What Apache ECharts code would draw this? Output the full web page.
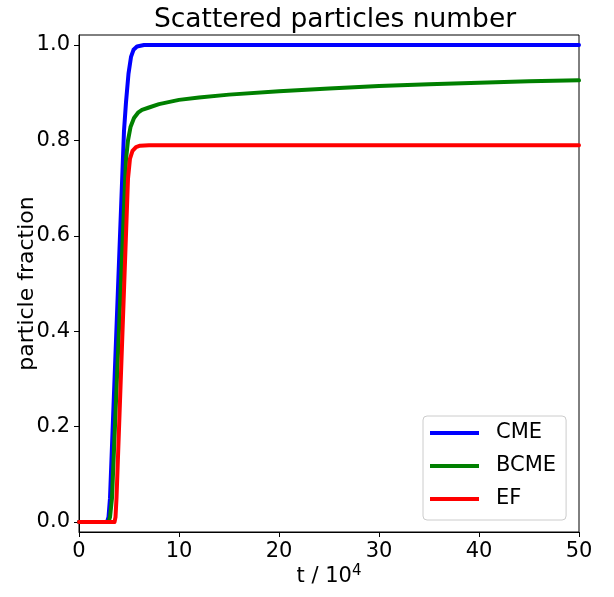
<!DOCTYPE html>
<html>
<head>
<meta charset="utf-8">
<script src="https://cdn.jsdelivr.net/npm/echarts@6/dist/echarts.min.js"></script>
<style>
  html, body { margin: 0; padding: 0; background: #fff; }
  #chart { width: 614px; height: 597px; }
</style>
</head>
<body>
<div id="chart"></div>
<script>
// values (t in units of 10^4)
var tCME = [0, 2.8, 2.95, 3.1, 4.5, 4.7, 4.95, 5.2, 5.45, 5.8, 6.5, 10, 20, 30, 40, 50];
var fCME = [0, 0, 0.01, 0.05, 0.82, 0.88, 0.94, 0.975, 0.99, 0.997, 1.0, 1.0, 1.0, 1.0, 1.0, 1.0];

var tBCME = [0, 2.95, 3.1, 3.3, 4.7, 4.9, 5.15, 5.5, 5.9, 6.3, 7, 8, 10, 12, 15, 20, 25, 30, 35, 40, 45, 50];
var fBCME = [0, 0, 0.01, 0.05, 0.76, 0.8, 0.828, 0.847, 0.858, 0.864, 0.869, 0.876, 0.885, 0.89, 0.896, 0.903, 0.909, 0.914, 0.918, 0.921, 0.924, 0.926];

var tEF = [0, 3.55, 3.65, 3.75, 4.9, 5.1, 5.35, 5.7, 6.1, 7, 10, 20, 30, 40, 50];
var fEF = [0, 0, 0.01, 0.05, 0.72, 0.762, 0.778, 0.786, 0.789, 0.79, 0.79, 0.79, 0.79, 0.79, 0.79];

var yTicks = [0, 0.2, 0.4, 0.6, 0.8, 1.0];
var seriesNames = ['CME', 'BCME', 'EF'];
var seriesColors = ['#0000ff', '#008000', '#ff0000'];

function pairs(ts, fs) {
  return ts.map(function (t, i) { return [t, fs[i]]; });
}

var chart = echarts.init(document.getElementById('chart'));
var font = 'DejaVu Sans';

var option = {
  backgroundColor: '#fff',
  animation: false,
  textStyle: { fontFamily: font },
  title: {
    text: 'Scattered particles number',
    left: 330,
    top: 2,
    textAlign: 'center',
    textStyle: { fontFamily: font, fontSize: 26.5, fontWeight: 'normal', color: '#000' }
  },
  grid: {
    left: 79, right: 35, top: 35, bottom: 65,
    show: true, borderColor: '#000', borderWidth: 1
  },
  legend: {
    orient: 'vertical',
    left: 423,
    top: 416,
    padding: [6, 10, 10, 7],
    itemGap: 11,
    itemWidth: 49,
    itemHeight: 4,
    icon: 'rect',
    borderColor: '#cccccc',
    borderWidth: 1,
    borderRadius: 4,
    backgroundColor: '#fff',
    data: seriesNames,
    textStyle: { fontFamily: font, fontSize: 21, color: '#000', lineHeight: 22, padding: [0, 0, 0, 12] }
  },
  xAxis: {
    type: 'value',
    min: 0,
    max: 50,
    interval: 10,
    name: '{a|t / 10}{s|4}',
    nameLocation: 'middle',
    nameGap: 32,
    nameMoveOverlap: false,
    nameTextStyle: {
      rich: {
        a: { fontFamily: font, fontSize: 21, color: '#000' },
        s: { fontFamily: font, fontSize: 15, color: '#000', verticalAlign: 'top', padding: [0, 0, 10, 0] }
      }
    },
    axisLine: { show: true, onZero: false, lineStyle: { color: '#000', width: 1 } },
    axisTick: { show: true, inside: false, length: 5, lineStyle: { color: '#000', width: 1 } },
    axisLabel: { fontFamily: font, fontSize: 21, color: '#000', margin: 9 },
    splitLine: { show: false }
  },
  yAxis: {
    type: 'value',
    min: -0.021,
    max: 1.021,
    name: 'particle fraction',
    nameLocation: 'middle',
    nameRotate: 90,
    nameGap: 41,
    nameMoveOverlap: false,
    nameTextStyle: { fontFamily: font, fontSize: 22, color: '#000' },
    axisLine: { show: true, onZero: false, lineStyle: { color: '#000', width: 1 } },
    axisTick: { show: true, inside: false, length: 5, customValues: yTicks, lineStyle: { color: '#000', width: 1 } },
    axisLabel: {
      fontFamily: font, fontSize: 21, color: '#000', margin: 9,
      customValues: yTicks,
      formatter: function (v) { return v.toFixed(1); }
    },
    splitLine: { show: false }
  },
  series: [
    { name: 'CME', data: pairs(tCME, fCME) },
    { name: 'BCME', data: pairs(tBCME, fBCME) },
    { name: 'EF', data: pairs(tEF, fEF) }
  ].map(function (s, i) {
    return {
      name: s.name,
      type: 'line',
      data: s.data,
      showSymbol: false,
      color: seriesColors[i],
      lineStyle: { color: seriesColors[i], width: 4, join: 'round', cap: 'round' }
    };
  })
};

chart.setOption(option);
</script>
</body>
</html>
